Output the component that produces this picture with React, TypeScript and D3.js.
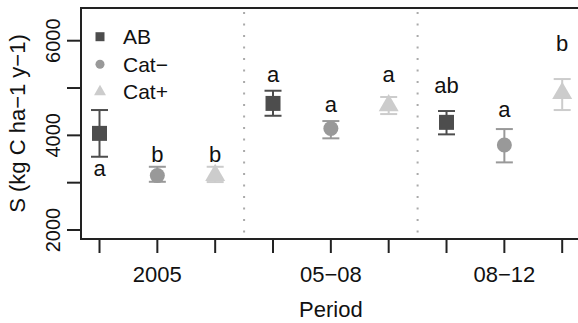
import React from "react";
import * as d3 from "d3";

const periods = ["2005", "05−08", "08−12"];
const groups = ["AB", "Cat−", "Cat+"];
const colors = ["#4d4d4d", "#999999", "#cccccc"];

// per group, per period
const means = [
  [4042, 4675, 4275],
  [3150, 4144, 3795],
  [3155, 4630, 4888],
];
const upper = [
  [4535, 4943, 4514],
  [3336, 4302, 4133],
  [3336, 4810, 5190],
];
const lower = [
  [3548, 4414, 4021],
  [3019, 3937, 3429],
  [3013, 4450, 4535],
];
const letters = [
  ["a", "a", "ab"],
  ["b", "a", "a"],
  ["b", "a", "b"],
];
// baseline of the significance letters, in data units
const letterY = [
  [3140, 5133, 4901],
  [3442, 4499, 4381],
  [3442, 5133, 5789],
];
const yTicks = [2000, 3000, 4000, 5000, 6000];
const yLabels = [2000, 4000, 6000];

const W = 578;
const H = 323;
const font = "'Liberation Sans', Arial, sans-serif";

export default function App() {
  const x = d3.scaleLinear().domain([0.68, 9.32]).range([81, 580.7]);
  const y = d3.scaleLinear().domain([1810, 6691]).range([239, 8]);
  const shapes = [d3.symbolSquare, d3.symbolCircle, d3.symbolTriangle];
  const sizes = [225, 177, 173];
  const legSizes = [81, 64, 62];
  const positions = d3.range(1, 10);

  const points = groups.flatMap((g, gi) =>
    periods.map((p, pi) => ({
      gi,
      pos: pi * 3 + gi + 1,
      mean: means[gi][pi],
      hi: upper[gi][pi],
      lo: lower[gi][pi],
      letter: letters[gi][pi],
      ly: letterY[gi][pi],
    }))
  );

  return (
    <svg width={W} height={H} style={{ position: "absolute", left: 0, top: 0 }} fontFamily={font}>
      <rect width={W} height={H} fill="#fff" />
      {/* period separators */}
      {[3.5, 6.5].map((s) => (
        <line key={s} x1={x(s)} x2={x(s)} y1={y(6691) + 4} y2={y(1810) - 4}
          stroke="#aaa" strokeWidth={2} strokeDasharray="2,9.5" />
      ))}
      {/* box */}
      <rect x={x(0.68)} y={y(6691)} width={x(9.32) - x(0.68)} height={y(1810) - y(6691)}
        fill="none" stroke="#222" strokeWidth={2} />
      {/* y axis */}
      {yTicks.map((t) => (
        <line key={t} x1={67} x2={81} y1={y(t)} y2={y(t)} stroke="#222" strokeWidth={2} />
      ))}
      {yLabels.map((t) => (
        <text key={t} transform={`translate(59.5,${y(t)}) rotate(-90)`} textAnchor="middle" fontSize={20} fill="#111">
          {t}
        </text>
      ))}
      <text transform={`translate(25,${(y(6691) + y(1810)) / 2}) rotate(-90)`} textAnchor="middle" fontSize={22} fill="#111">
        S (kg C ha−1 y−1)
      </text>
      {/* x axis */}
      {positions.map((p) => (
        <line key={p} x1={x(p)} x2={x(p)} y1={239} y2={253} stroke="#222" strokeWidth={2} />
      ))}
      {periods.map((p, i) => (
        <text key={p} x={x(i * 3 + 2)} y={281.5} textAnchor="middle" fontSize={22} fill="#111">
          {p}
        </text>
      ))}
      <text x={(x(0.68) + x(9.32)) / 2} y={316.5} textAnchor="middle" fontSize={22} fill="#111">
        Period
      </text>
      {/* points */}
      {points.map((d, i) => (
        <g key={i} stroke={colors[d.gi]} fill={colors[d.gi]}>
          <line x1={x(d.pos)} x2={x(d.pos)} y1={y(d.lo)} y2={y(d.hi)} strokeWidth={2} />
          <line x1={x(d.pos) - 8.5} x2={x(d.pos) + 8.5} y1={y(d.lo)} y2={y(d.lo)} strokeWidth={2} />
          <line x1={x(d.pos) - 8.5} x2={x(d.pos) + 8.5} y1={y(d.hi)} y2={y(d.hi)} strokeWidth={2} />
          <path transform={`translate(${x(d.pos)},${y(d.mean)})`} d={d3.symbol(shapes[d.gi], sizes[d.gi])() || ""} stroke="none" />
          <text x={x(d.pos)} y={y(d.ly)} textAnchor="middle" fontSize={22} fill="#111" stroke="none">
            {d.letter}
          </text>
        </g>
      ))}
      {/* legend */}
      {groups.map((g, i) => (
        <g key={g} transform={`translate(100,${36.7 + i * 27.5})`}>
          <path d={d3.symbol(shapes[i], legSizes[i])() || ""} fill={colors[i]} />
          <text x={23} y={7.5} fontSize={21} fill="#111">{g}</text>
        </g>
      ))}
    </svg>
  );
}
